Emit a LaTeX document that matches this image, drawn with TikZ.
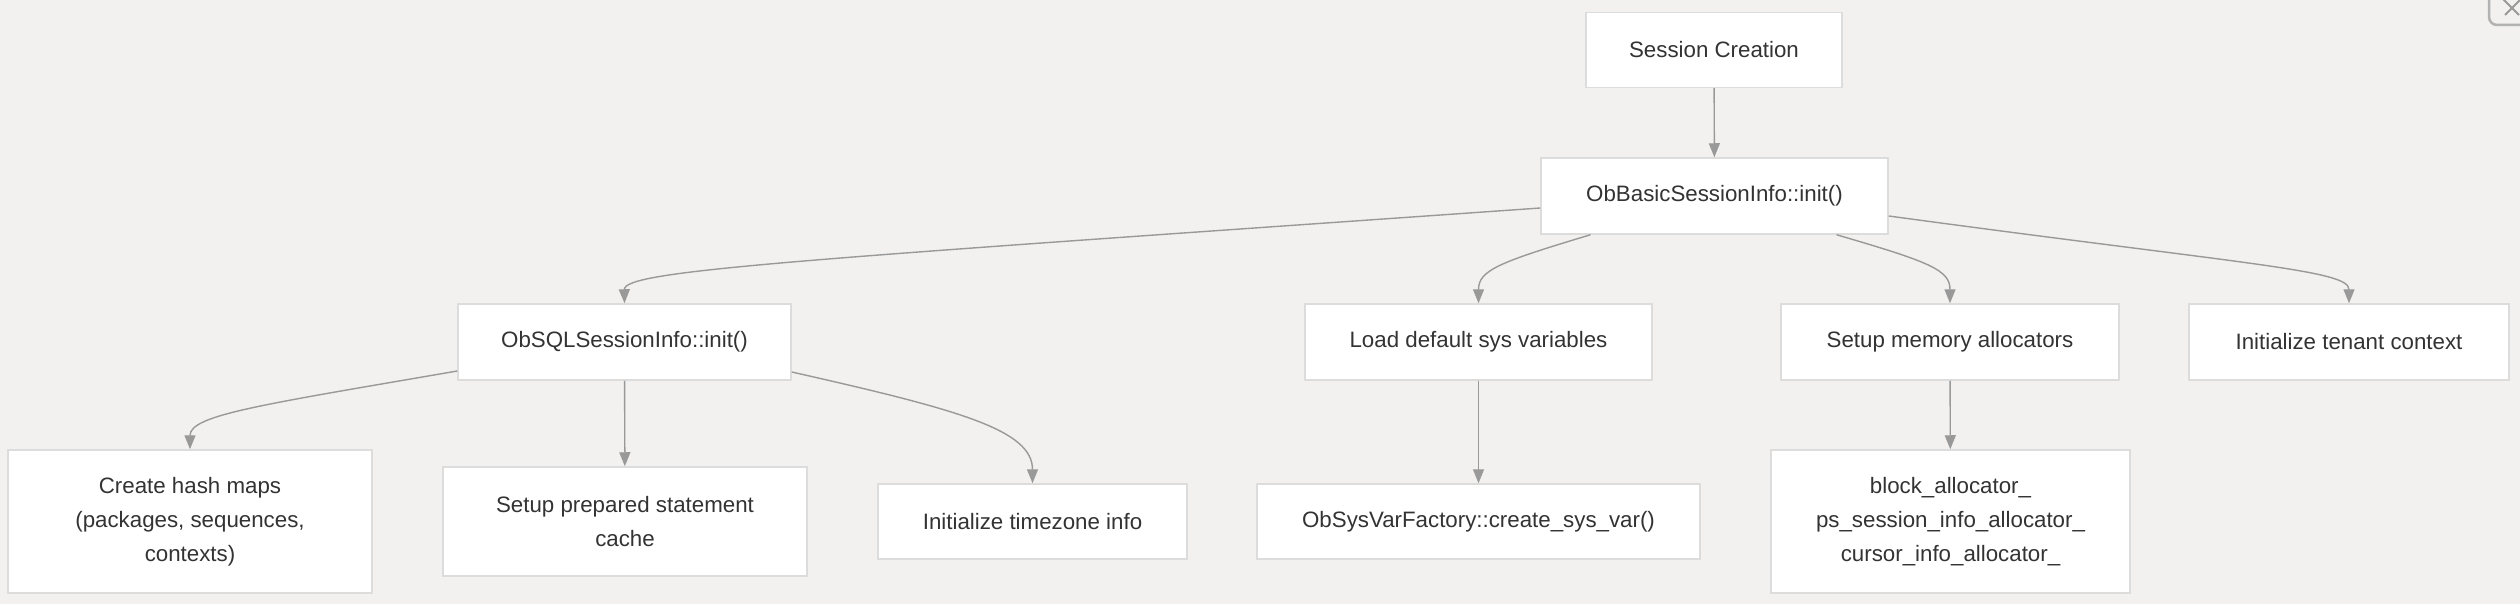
\documentclass[tikz,border=0pt]{standalone}
\usepackage{fontspec}
\setmainfont{Liberation Sans}
\usepackage{tikz}
\usetikzlibrary{arrows.meta,calc}
\usepackage{xcolor}
\definecolor{canvas}{HTML}{F2F1F0}
\definecolor{boxline}{HTML}{DCDCDC}
\definecolor{edgegray}{HTML}{999999}
\definecolor{labelgray}{HTML}{333333}

\tikzset{
  stepbox/.style={draw=boxline,line width=1.5pt,fill=white,align=center,
    text=labelgray,inner sep=0pt,font=\fontsize{22.3}{34}\selectfont},
  flow/.style={draw=edgegray,line width=1.4pt,-{Triangle[length=14pt,width=11pt]}}
}

\begin{document}
\begin{tikzpicture}[x=1pt,y=-1pt]
  % Canvas
  \fill[canvas] (0,0) rectangle (2520,604);
  \useasboundingbox (0,0) rectangle (2520,604);
  % Close button (cut at the corner)
  \draw[gray!60,line width=2.5pt,rounded corners=8pt] (2489,-20) rectangle (2560,25);
  \draw[gray!80,line width=2pt] (2505,15) -- (2521,-1);
  \draw[gray!80,line width=2pt] (2503,-1) -- (2519,15);
  % Top level
  \node[stepbox,minimum width=256pt,minimum height=75pt] (sess) at (1714,50) {Session Creation};
  \node[stepbox,minimum width=347pt,minimum height=76pt] (basic) at (1714.5,196) {ObBasicSessionInfo::init()};
  % Second row
  \node[stepbox,minimum width=333pt,minimum height=76pt] (sql) at (624.5,342) {ObSQLSessionInfo::init()};
  \node[stepbox,minimum width=347pt,minimum height=76pt] (load) at (1478.5,342) {Load default sys variables};
  \node[stepbox,minimum width=338pt,minimum height=76pt] (mem) at (1950,342) {Setup memory allocators};
  \node[stepbox,minimum width=320pt,minimum height=76pt] (tenant) at (2349,342) {Initialize tenant context};
  % Third row
  \node[stepbox,minimum width=364pt,minimum height=143pt] (hash) at (190,521.5) {Create hash maps\\(packages, sequences,\\contexts)};
  \node[stepbox,minimum width=364pt,minimum height=109pt] (prep) at (625,521.5) {Setup prepared statement\\cache};
  \node[stepbox,minimum width=309pt,minimum height=75pt] (tz) at (1032.5,521.5) {Initialize timezone info};
  \node[stepbox,minimum width=443pt,minimum height=75pt] (sysvar) at (1478.5,521.5) {ObSysVarFactory::create\_sys\_var()};
  \node[stepbox,minimum width=359pt,minimum height=143pt] (alloc) at (1950.5,521.5) {block\_allocator\_\\ps\_session\_info\_allocator\_\\cursor\_info\_allocator\_};
  % Straight connectors
  \draw[flow] (sess) -- (basic);
  \draw[flow] (sql) -- (prep);
  \draw[flow] (load) -- (sysvar);
  \draw[flow] (mem) -- (alloc);
  % Curved connectors
  \draw[flow] ($(basic.west)+(0,12)$) .. controls (800,260) and (624,270) .. (sql.north);
  \draw[flow] ($(basic.south)+(-124,0)$) .. controls (1500,262) and (1478.5,270) .. (load.north);
  \draw[flow] ($(basic.south)+(122,0)$) .. controls (1930,262) and (1950,270) .. (mem.north);
  \draw[flow] ($(basic.east)+(0,20)$) .. controls (2250,265) and (2349,270) .. (tenant.north);
  \draw[flow] ($(sql.west)+(0,29)$) .. controls (260,405) and (190,415) .. (hash.north);
  \draw[flow] ($(sql.east)+(0,30)$) .. controls (960,410) and (1032.5,430) .. (tz.north);
\end{tikzpicture}
\end{document}
